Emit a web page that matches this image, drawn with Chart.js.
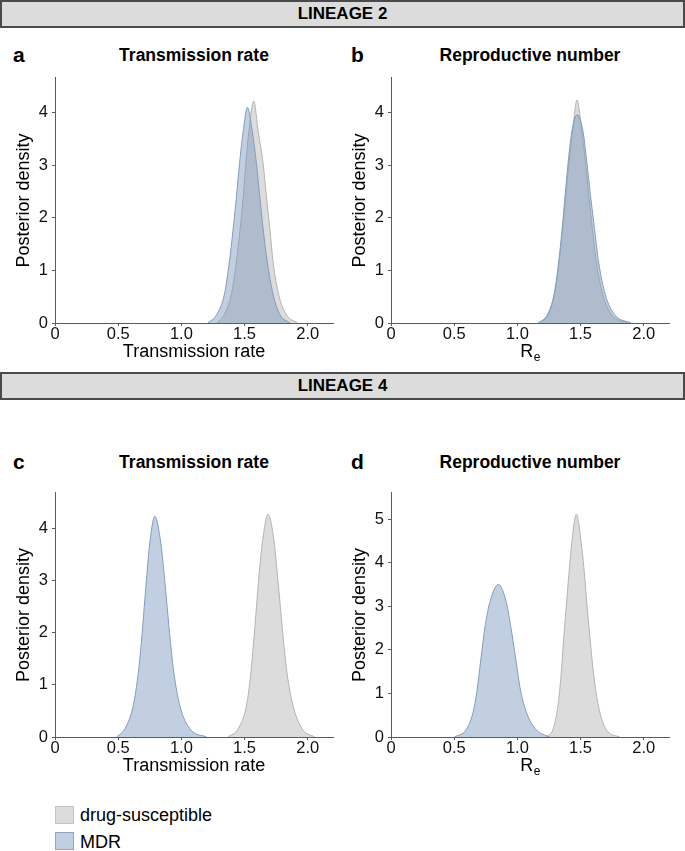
<!DOCTYPE html>
<html lang="en">
<head>
<meta charset="UTF-8">
<title>Posterior densities</title>
<script src="https://cdn.jsdelivr.net/npm/chart.js"></script>
<style>
  body { margin: 0; width: 685px; height: 851px; position: relative; background: #fff; overflow: hidden;
         font-family: "Liberation Sans", Arial, Helvetica, sans-serif; color: #000; }
  .banner { position: absolute; left: 0; width: 681px; height: 24px; background: #dcdcdc; border: 2px solid #4a4a4a;
            text-align: center; font-weight: bold; font-size: 17px; line-height: 24px; }
  .letter { position: absolute; font-weight: bold; font-size: 21px; transform: translateY(-50%); }
  .ptitle { position: absolute; font-weight: bold; font-size: 17.5px; transform: translate(-50%, -50%); white-space: nowrap; }
  canvas { position: absolute; }
  .sw { position: absolute; left: 55px; width: 17px; height: 16px; }
  .lt { position: absolute; left: 80px; font-size: 18px; transform: translateY(-50%); }
</style>
</head>
<body>
  <div class="banner" style="top:0">LINEAGE 2</div>
  <div class="letter" style="left:13px;top:55px">a</div>
  <div class="ptitle" style="left:194px;top:55px">Transmission rate</div>
  <div class="letter" style="left:351px;top:55px">b</div>
  <div class="ptitle" style="left:530px;top:55px">Reproductive number</div>
  <canvas id="chartA" width="340" height="299" style="left:0;top:64px"></canvas>
  <canvas id="chartB" width="340" height="299" style="left:336px;top:64px"></canvas>

  <div class="banner" style="top:372px">LINEAGE 4</div>
  <div class="letter" style="left:13px;top:462px">c</div>
  <div class="ptitle" style="left:194px;top:462px">Transmission rate</div>
  <div class="letter" style="left:351px;top:462px">d</div>
  <div class="ptitle" style="left:530px;top:462px">Reproductive number</div>
  <canvas id="chartC" width="340" height="298" style="left:0;top:479px"></canvas>
  <canvas id="chartD" width="340" height="298" style="left:336px;top:479px"></canvas>

  <div class="sw" style="top:806px;background:#dcdcdc;border:1px solid #c4c4c4"></div>
  <div class="lt" style="top:815px">drug-susceptible</div>
  <div class="sw" style="top:832px;background:#c2cfe0;border:1px solid #8ea6c6"></div>
  <div class="lt" style="top:842px">MDR</div>

  <script>
    // tick values / labels
    const xTickVals = [0, 0.5, 1, 1.5, 2];
    const xTickLabels = ['0', '0.5', '1.0', '1.5', '2.0'];
    const yTicks4 = [0, 1, 2, 3, 4];
    const yTicks5 = [0, 1, 2, 3, 4, 5];

    // Lineage 2 - transmission rate
    const l2RateDsX = [1.28, 1.34, 1.395, 1.435, 1.465, 1.49, 1.51, 1.535, 1.573, 1.607, 1.647, 1.673, 1.70, 1.726, 1.77, 1.83, 1.92];
    const l2RateDsY = [0, 0.16, 0.54, 1.16, 1.79, 2.41, 3.03, 3.66, 4.22, 3.66, 3.03, 2.41, 1.79, 1.16, 0.54, 0.16, 0];
    const l2RateMdrX = [1.21, 1.28, 1.34, 1.38, 1.41, 1.436, 1.46, 1.49, 1.523, 1.56, 1.594, 1.62, 1.647, 1.68, 1.726, 1.78, 1.86];
    const l2RateMdrY = [0, 0.16, 0.54, 1.16, 1.79, 2.41, 3.03, 3.66, 4.10, 3.66, 3.03, 2.41, 1.79, 1.16, 0.54, 0.16, 0];

    // Lineage 2 - Re
    const l2ReDsX = [1.18, 1.245, 1.293, 1.33, 1.358, 1.383, 1.408, 1.437, 1.472, 1.51, 1.54, 1.566, 1.594, 1.625, 1.676, 1.745, 1.87];
    const l2ReDsY = [0, 0.16, 0.54, 1.16, 1.78, 2.40, 3.03, 3.65, 4.24, 3.65, 3.03, 2.40, 1.78, 1.16, 0.54, 0.16, 0];
    const l2ReMdrX = [1.164, 1.238, 1.29, 1.327, 1.354, 1.377, 1.401, 1.432, 1.474, 1.519, 1.551, 1.58, 1.611, 1.643, 1.696, 1.769, 1.90];
    const l2ReMdrY = [0, 0.16, 0.54, 1.16, 1.78, 2.40, 3.03, 3.65, 3.96, 3.65, 3.03, 2.40, 1.78, 1.16, 0.54, 0.16, 0];

    // Lineage 4 - transmission rate
    const l4RateDsX = [1.370, 1.449, 1.515, 1.550, 1.573, 1.594, 1.615, 1.642, 1.686, 1.734, 1.760, 1.784, 1.808, 1.836, 1.884, 1.955, 2.055];
    const l4RateDsY = [0, 0.157, 0.60, 1.23, 1.86, 2.49, 3.12, 3.75, 4.28, 3.75, 3.12, 2.49, 1.86, 1.23, 0.60, 0.157, 0];
    const l4RateMdrX = [0.488, 0.553, 0.619, 0.659, 0.685, 0.706, 0.727, 0.751, 0.79, 0.836, 0.864, 0.888, 0.912, 0.941, 0.988, 1.067, 1.199];
    const l4RateMdrY = [0, 0.157, 0.60, 1.23, 1.86, 2.49, 3.12, 3.75, 4.24, 3.75, 3.12, 2.49, 1.86, 1.23, 0.60, 0.157, 0];

    // Lineage 4 - Re
    const l4ReDsX = [1.228, 1.281, 1.320, 1.347, 1.365, 1.386, 1.407, 1.431, 1.466, 1.505, 1.532, 1.553, 1.577, 1.603, 1.643, 1.704, 1.809];
    const l4ReDsY = [0, 0.166, 0.69, 1.45, 2.2, 2.96, 3.71, 4.46, 5.11, 4.46, 3.71, 2.96, 2.2, 1.45, 0.69, 0.166, 0];
    const l4ReMdrX = [0.502, 0.594, 0.647, 0.681, 0.713, 0.747, 0.784, 0.850, 0.911, 0.945, 0.985, 1.025, 1.075, 1.149, 1.254];
    const l4ReMdrY = [0, 0.166, 0.54, 1.07, 1.83, 2.58, 3.11, 3.50, 3.11, 2.58, 1.83, 1.07, 0.54, 0.166, 0];

    const FONT = '"Liberation Sans", Arial, Helvetica, sans-serif';
    const axisColor = '#5a5a5a';

    function pts(xs, ys) {
      return xs.map((x, i) => ({ x: x, y: ys[i] }));
    }

    // draws "R" with a subscript "e" where the x-axis title goes
    const reTitle = {
      id: 'reTitle',
      afterDraw(chart, args, opts) {
        if (!opts.show) return;
        const xs = chart.scales.x;
        const ctx = chart.ctx;
        const cx = (xs.left + xs.right) / 2;
        const y = xs.bottom - 11;
        ctx.save();
        ctx.fillStyle = '#000';
        ctx.textBaseline = 'middle';
        ctx.font = '18px ' + FONT;
        const wR = ctx.measureText('R').width;
        ctx.font = '12px ' + FONT;
        const wE = ctx.measureText('e').width;
        const x0 = cx - (wR + wE) / 2;
        ctx.font = '18px ' + FONT;
        ctx.fillText('R', x0, y);
        ctx.font = '12px ' + FONT;
        ctx.fillText('e', x0 + wR + 0.5, y + 6);
        ctx.restore();
      }
    };

    function makePanel(id, dsX, dsY, mdrX, mdrY, yTicks, yMax, xTitle) {
      const isRe = xTitle === null;
      return new Chart(document.getElementById(id), {
        type: 'line',
        data: {
          datasets: [
            {
              label: 'MDR',
              data: pts(mdrX, mdrY),
              borderColor: '#809cc0',
              backgroundColor: 'rgba(120,148,186,0.45)',
              borderWidth: 1,
              fill: 'origin',
              pointRadius: 0,
              cubicInterpolationMode: 'monotone'
            },
            {
              label: 'drug-susceptible',
              data: pts(dsX, dsY),
              borderColor: '#b3b3b3',
              backgroundColor: '#dcdcdc',
              borderWidth: 1,
              fill: 'origin',
              pointRadius: 0,
              cubicInterpolationMode: 'monotone'
            }
          ]
        },
        plugins: [reTitle],
        options: {
          responsive: false,
          animation: false,
          layout: { padding: { top: 10, right: 7, left: 0, bottom: 0 } },
          plugins: {
            legend: { display: false },
            tooltip: { enabled: false },
            reTitle: { show: isRe }
          },
          scales: {
            x: {
              type: 'linear',
              min: 0,
              max: 2.2,
              afterBuildTicks: s => { s.ticks = xTickVals.map(v => ({ value: v })); },
              afterFit: s => { s.height = 40; },
              ticks: {
                callback: (v) => xTickLabels[xTickVals.indexOf(v)],
                font: { family: FONT, size: 16.5, lineHeight: 1 },
                color: '#111',
                padding: 0,
                maxRotation: 0
              },
              grid: { drawOnChartArea: false, drawTicks: true, tickLength: 3, color: axisColor },
              border: { display: true, color: axisColor, width: 1 },
              title: {
                display: !isRe,
                text: xTitle || '',
                font: { family: FONT, size: 18 },
                color: '#000',
                padding: { top: 0, bottom: 0 }
              }
            },
            y: {
              min: 0,
              max: yMax,
              afterBuildTicks: s => { s.ticks = yTicks.map(v => ({ value: v })); },
              afterFit: s => { s.width = 55; },
              ticks: {
                font: { family: FONT, size: 16.5 },
                color: '#111',
                padding: 4
              },
              grid: { drawOnChartArea: false, drawTicks: true, tickLength: 3, color: axisColor },
              border: { display: true, color: axisColor, width: 1 },
              title: {
                display: true,
                text: 'Posterior density',
                font: { family: FONT, size: 18 },
                color: '#000',
                padding: { top: 13, bottom: 0 }
              }
            }
          }
        }
      });
    }

    makePanel('chartA', l2RateDsX, l2RateDsY, l2RateMdrX, l2RateMdrY, yTicks4, 4.66, 'Transmission rate');
    makePanel('chartB', l2ReDsX, l2ReDsY, l2ReMdrX, l2ReMdrY, yTicks4, 4.66, null);
    makePanel('chartC', l4RateDsX, l4RateDsY, l4RateMdrX, l4RateMdrY, yTicks4, 4.69, 'Transmission rate');
    makePanel('chartD', l4ReDsX, l4ReDsY, l4ReMdrX, l4ReMdrY, yTicks5, 5.6, null);
  </script>
</body>
</html>
